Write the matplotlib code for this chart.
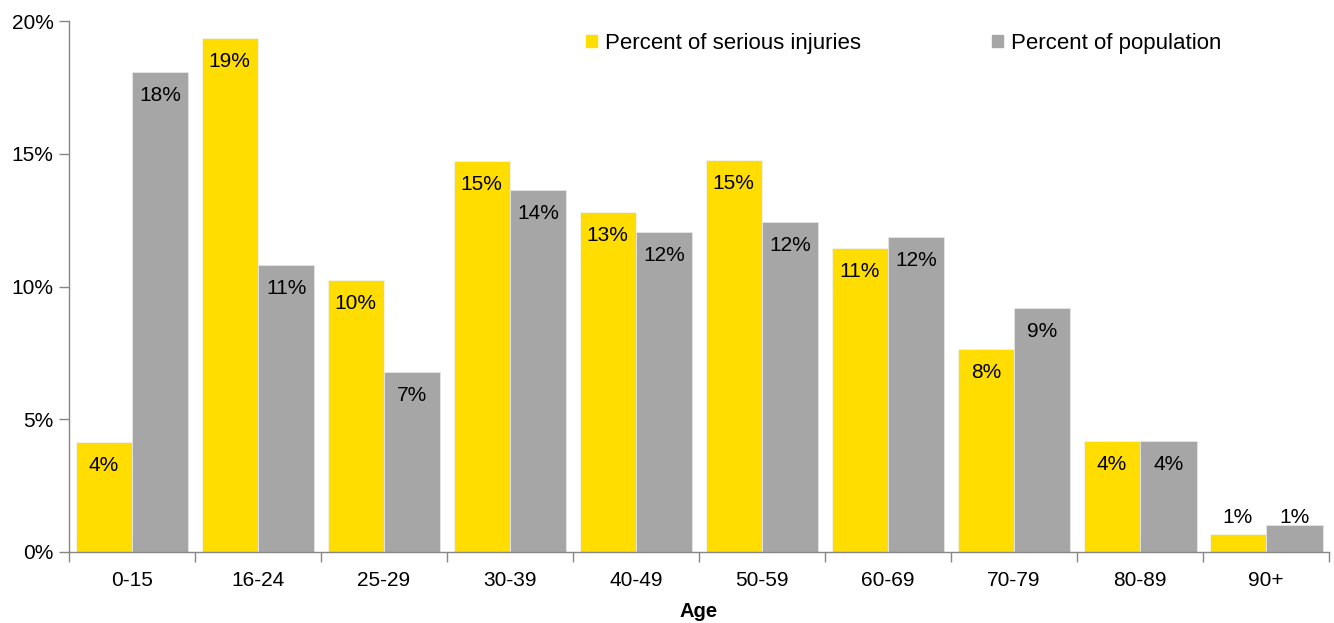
import numpy as np
import matplotlib.pyplot as plt
from matplotlib.patches import Patch
from matplotlib.ticker import FuncFormatter

# age bands and shares (percent)
age_groups = ["0-15", "16-24", "25-29", "30-39", "40-49",
              "50-59", "60-69", "70-79", "80-89", "90+"]
injuries = [4.14, 19.36, 10.24, 14.73, 12.81, 14.76, 11.45, 7.65, 4.18, 0.68]
population = [18.08, 10.81, 6.78, 13.63, 12.05, 12.43, 11.86, 9.19, 4.18, 1.02]

YELLOW = "#FFDD00"
GREY = "#A6A6A6"
AXIS = "#868686"

plt.rcParams["font.family"] = ["Liberation Sans", "DejaVu Sans"]

fig = plt.figure(figsize=(13.34, 6.23), dpi=100)
ax = fig.add_axes([0.0517, 0.114, 0.9446, 0.852])

x = np.arange(len(age_groups))
w = 0.448
bars1 = ax.bar(x - w / 2, injuries, w, color=YELLOW, edgecolor="#f2f2f2", linewidth=0.6)
bars2 = ax.bar(x + w / 2, population, w, color=GREY, edgecolor="#e6e6e6", linewidth=0.6)


def add_labels(bars, values):
    for b, v in zip(bars, values):
        cx = b.get_x() + b.get_width() / 2
        txt = "%d%%" % round(v)
        if v < 2:
            # too short for the label, put it above
            ax.annotate(txt, (cx, 1.3), ha="center", va="center", fontsize=15)
        else:
            ax.annotate(txt, (cx, v), xytext=(0, -17), textcoords="offset points",
                        ha="center", va="center", fontsize=15)


add_labels(bars1, injuries)
add_labels(bars2, population)

ax.set_xlim(-0.5, len(age_groups) - 0.5)
ax.set_ylim(0, 20)
ax.set_yticks([0, 5, 10, 15, 20])
ax.yaxis.set_major_formatter(FuncFormatter(lambda v, p: "%d%%" % v))

# tick marks sit between the categories, labels in the middle
ax.set_xticks(x)
ax.set_xticklabels(age_groups)
ax.set_xticks(np.arange(-0.5, len(age_groups)), minor=True)
ax.tick_params(axis="x", which="major", length=0, pad=14, labelsize=15)
ax.tick_params(axis="x", which="minor", length=7, color=AXIS, width=1)
ax.tick_params(axis="y", length=7, color=AXIS, width=1, labelsize=15, pad=4)

for s in ["top", "right"]:
    ax.spines[s].set_visible(False)
for s in ["left", "bottom"]:
    ax.spines[s].set_color(AXIS)
    ax.spines[s].set_linewidth(1)

ax.set_xlabel("Age", fontsize=14.5, fontweight="bold", labelpad=8)

handles = [Patch(color=YELLOW, label="Percent of serious injuries"),
           Patch(color=GREY, label="Percent of population")]
ax.legend(handles=handles, loc="center left", bbox_to_anchor=(0.403, 0.958),
          ncol=2, frameon=False, fontsize=16, handlelength=0.5, handleheight=0.5,
          handletextpad=0.35, columnspacing=5.9, borderaxespad=0)

fig.savefig("out.png", dpi=100)
